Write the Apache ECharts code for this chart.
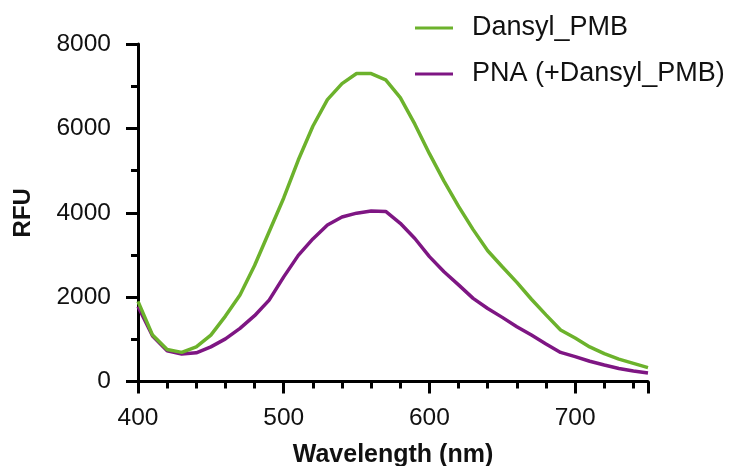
<!DOCTYPE html>
<html>
<head>
<meta charset="utf-8">
<script src="https://cdn.jsdelivr.net/npm/echarts@6/dist/echarts.min.js"></script>
<style>html,body{margin:0;padding:0;background:#fff;}#c{width:729px;height:466px;}</style>
</head>
<body>
<div id="c"></div>
<script>
var wavelengths = [400,410,420,430,440,450,460,470,480,490,500,510,520,530,540,550,560,570,580,590,600,610,620,630,640,650,660,670,680,690,700,710,720,730,740,750];
var dansylPMB = [1900,1100,760,690,820,1100,1550,2050,2750,3550,4350,5250,6050,6680,7060,7300,7300,7150,6730,6100,5400,4750,4150,3600,3100,2720,2350,1950,1580,1220,1030,820,660,530,430,330];
var pnaDansylPMB = [1780,1080,730,650,680,820,1010,1260,1560,1930,2480,2990,3380,3710,3900,3990,4040,4030,3750,3390,2960,2600,2290,1970,1730,1520,1300,1100,890,690,590,480,390,310,250,200];
var seriesNames = ['Dansyl_PMB', 'PNA (+Dansyl_PMB)'];
var xTicks = [400, 500, 600, 700];
var yTicks = [0, 2000, 4000, 6000, 8000];

function pairs(ys) { return wavelengths.map(function (w, i) { return [w, ys[i]]; }); }

var font = "'Liberation Sans', Arial, Helvetica, sans-serif";
var chart = echarts.init(document.getElementById('c'), null, {renderer: 'canvas'});
chart.setOption({
  animation: false,
  backgroundColor: '#ffffff',
  grid: {left: 138, right: 81, top: 44, bottom: 84.5, containLabel: false, outerBoundsMode: 'none'},
  legend: {
    orient: 'vertical', left: 415, top: 14, padding: 0,
    icon: 'rect', itemWidth: 38, itemHeight: 3, itemGap: 18,
    textStyle: {fontFamily: font, fontSize: 27, color: '#111', lineHeight: 28, padding: [0, 0, 0, 14]},
    data: seriesNames
  },
  xAxis: {
    type: 'value', min: xTicks[0], max: 750, interval: 100,
    name: 'Wavelength (nm)', nameLocation: 'middle', nameGap: 61,
    nameTextStyle: {fontFamily: font, fontSize: 25, fontWeight: 'bold', color: '#111'},
    axisLine: {show: true, onZero: false, lineStyle: {color: '#000', width: 3}},
    axisTick: {show: true, length: 12, lineStyle: {color: '#000', width: 3}},
    minorTick: {show: true, splitNumber: 5, length: 7, lineStyle: {color: '#000', width: 3}},
    splitLine: {show: false},
    axisLabel: {fontFamily: font, fontSize: 24.5, color: '#111', margin: 24,
      formatter: function (v) { return xTicks.indexOf(v) >= 0 ? String(v) : ''; }}
  },
  yAxis: {
    type: 'value', min: yTicks[0], max: yTicks[yTicks.length - 1], interval: 2000,
    name: 'RFU', nameLocation: 'middle', nameGap: 103, nameRotate: 90,
    nameTextStyle: {fontFamily: font, fontSize: 24, fontWeight: 'bold', color: '#111'},
    axisLine: {show: true, lineStyle: {color: '#000', width: 3}},
    axisTick: {show: true, length: 12, lineStyle: {color: '#000', width: 3}},
    minorTick: {show: true, splitNumber: 2, length: 7, lineStyle: {color: '#000', width: 3}},
    splitLine: {show: false},
    axisLabel: {fontFamily: font, fontSize: 24.5, color: '#111', margin: 27,
      formatter: function (v) { return String(v); }}
  },
  series: [
    {name: seriesNames[0], type: 'line', data: pairs(dansylPMB), showSymbol: false, symbol: 'none',
     lineStyle: {color: '#6cb22c', width: 3.5}, itemStyle: {color: '#6cb22c'}, z: 3},
    {name: seriesNames[1], type: 'line', data: pairs(pnaDansylPMB), showSymbol: false, symbol: 'none',
     lineStyle: {color: '#7e1683', width: 3.5}, itemStyle: {color: '#7e1683'}, z: 2}
  ]
});
</script>
</body>
</html>
